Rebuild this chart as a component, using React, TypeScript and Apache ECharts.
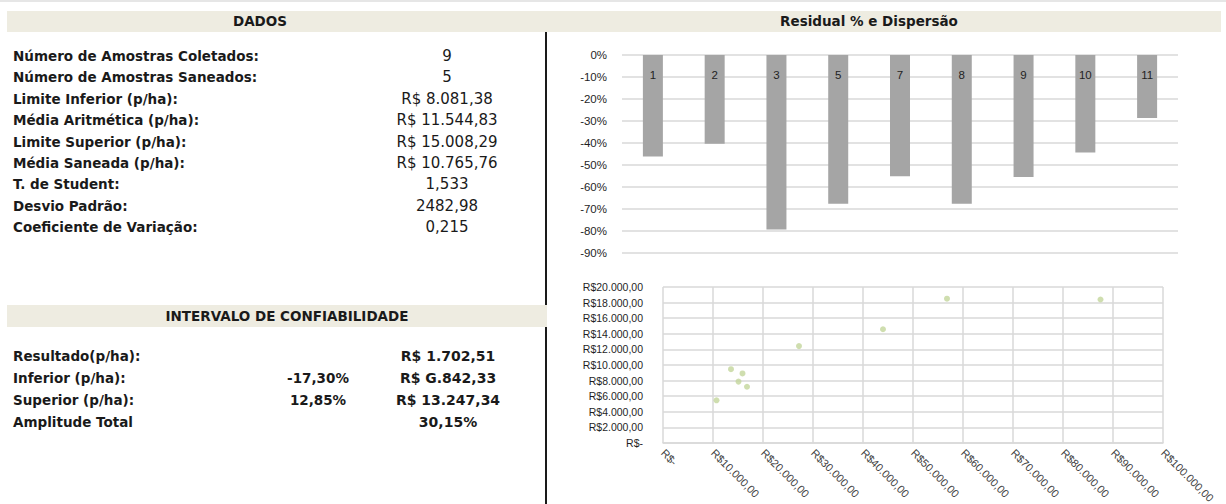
import React, { useEffect, useRef } from "react";
import * as echarts from "echarts";

// ---- Data ----
const categories = ["1", "2", "3", "5", "7", "8", "9", "10", "11"];
const residuals = [-46.1, -40.3, -79.3, -67.6, -55.1, -67.6, -55.5, -44.3, -28.6];

const scatterX = [10700, 13600, 15100, 15900, 16800, 27200, 44000, 56800, 87500];
const scatterY = [5470, 9460, 7870, 8920, 7210, 12420, 14580, 18500, 18400];

const dadosLabels = [
  "Número de Amostras Coletados:",
  "Número de Amostras Saneados:",
  "Limite Inferior (p/ha):",
  "Média Aritmética (p/ha):",
  "Limite Superior (p/ha):",
  "Média Saneada (p/ha):",
  "T. de Student:",
  "Desvio Padrão:",
  "Coeficiente de Variação:",
];
const dadosValues = [
  "9",
  "5",
  "R$ 8.081,38",
  "R$ 11.544,83",
  "R$ 15.008,29",
  "R$ 10.765,76",
  "1,533",
  "2482,98",
  "0,215",
];

const intervaloLabels = ["Resultado(p/ha):", "Inferior (p/ha):", "Superior (p/ha):", "Amplitude Total"];
const intervaloPcts = ["", "-17,30%", "12,85%", ""];
const intervaloValues = ["R$ 1.702,51", "R$ G.842,33", "R$ 13.247,34", "30,15%"];

const titleLeft = "DADOS";
const titleRight = "Residual % e Dispersão";
const titleIntervalo = "INTERVALO DE CONFIABILIDADE";

function fmtBRL(v: number): string {
  if (v === 0) return "R$-";
  const s = Math.round(v).toString();
  const withDots = s.replace(/\B(?=(\d{3})+(?!\d))/g, ".");
  return "R$" + withDots + ",00";
}

const TABLE_FONT = '"DejaVu Sans", Verdana, sans-serif';
const AXIS_FONT = '"Liberation Sans", Arial, sans-serif';

export default function App() {
  const ref = useRef<HTMLDivElement>(null);

  useEffect(() => {
    document.body.style.margin = "0";
    if (!ref.current) return;
    const chart = echarts.init(ref.current, null, { renderer: "svg" });

    const graphics: any[] = [];
    graphics.push({ type: "rect", shape: { x: 0, y: 0, width: 1226, height: 2 }, style: { fill: "#e6e6e6" }, silent: true });
    graphics.push({
      type: "line",
      shape: { x1: 546, y1: 32, x2: 546, y2: 504 },
      style: { stroke: "#1a1a1a", lineWidth: 2 },
      silent: true,
    });
    graphics.push({ type: "rect", shape: { x: 7, y: 11, width: 1214, height: 21 }, style: { fill: "#eeece1" }, silent: true });
    graphics.push({ type: "rect", shape: { x: 7, y: 305, width: 540, height: 22 }, style: { fill: "#eeece1" }, silent: true });

    const txt = (text: string, x: number, y: number, opts: any = {}) => ({
      type: "text",
      x,
      y,
      silent: true,
      style: {
        text,
        fill: "#1a1a1a",
        fontFamily: TABLE_FONT,
        fontSize: 13.5,
        fontWeight: "bold",
        align: "left",
        verticalAlign: "middle",
        ...opts,
      },
    });

    graphics.push(txt(titleLeft, 260, 21, { align: "center" }));
    graphics.push(txt(titleRight, 869, 21, { align: "center" }));
    graphics.push(txt(titleIntervalo, 287, 316, { align: "center" }));

    const rowStart = 56;
    const rowStep = 21.4;
    dadosLabels.forEach((l, i) => {
      graphics.push(txt(l, 13, rowStart + i * rowStep));
      graphics.push(txt(dadosValues[i], 447, rowStart + i * rowStep, { align: "center", fontWeight: "normal", fontSize: 15 }));
    });

    const row2Start = 356;
    intervaloLabels.forEach((l, i) => {
      const y = row2Start + i * 22;
      graphics.push(txt(l, 13, y));
      if (intervaloPcts[i]) graphics.push(txt(intervaloPcts[i], 318, y, { align: "center" }));
      graphics.push(txt(intervaloValues[i], 448, y, { align: "center", fontSize: 14 }));
    });

    const gridLine = { color: "#d9d9d9", width: 1.5 };

    chart.setOption({
      animation: false,
      grid: [
        { left: 622, top: 55, width: 556, height: 198, outerBoundsMode: "none", containLabel: false },
        { left: 663, top: 287, width: 500, height: 156, outerBoundsMode: "none", containLabel: false },
      ],
      xAxis: [
        {
          type: "category",
          gridIndex: 0,
          data: categories,
          position: "top",
          z: 10,
          axisLine: { show: false },
          axisTick: { show: false },
          splitLine: { show: false },
          axisLabel: { inside: true, margin: 14, interval: 0, fontSize: 11.5, color: "#1f1f1f", fontFamily: AXIS_FONT },
        },
        {
          type: "value",
          gridIndex: 1,
          min: 0,
          max: 100000,
          interval: 10000,
          axisLine: { show: true, lineStyle: gridLine },
          axisTick: { show: false },
          splitLine: { show: true, lineStyle: gridLine },
          axisLabel: {
            rotate: -45,
            margin: 8,
            fontSize: 11,
            color: "#404040",
            fontFamily: AXIS_FONT,
            formatter: (v: number) => fmtBRL(v),
          },
        },
      ],
      yAxis: [
        {
          type: "value",
          gridIndex: 0,
          min: -90,
          max: 0,
          interval: 10,
          axisLine: { show: false },
          axisTick: { show: false },
          splitLine: { show: true, lineStyle: gridLine },
          axisLabel: { margin: 15, fontSize: 11.5, color: "#1f1f1f", fontFamily: AXIS_FONT, formatter: "{value}%" },
        },
        {
          type: "value",
          gridIndex: 1,
          min: 0,
          max: 20000,
          interval: 2000,
          axisLine: { show: false },
          axisTick: { show: false },
          splitLine: { show: true, lineStyle: gridLine },
          axisLabel: { margin: 20, fontSize: 10.5, color: "#1f1f1f", fontFamily: AXIS_FONT, formatter: (v: number) => fmtBRL(v) },
        },
      ],
      series: [
        {
          type: "bar",
          xAxisIndex: 0,
          yAxisIndex: 0,
          data: residuals,
          barWidth: 20,
          itemStyle: { color: "#a5a5a5" },
        },
        {
          type: "scatter",
          xAxisIndex: 1,
          yAxisIndex: 1,
          data: scatterX.map((x, i) => [x, scatterY[i]]),
          symbolSize: 6,
          itemStyle: { color: "#c3d69b" },
        },
      ],
      graphic: graphics,
    });

    return () => chart.dispose();
  }, []);

  return <div ref={ref} style={{ width: 1226, height: 504 }} />;
}
